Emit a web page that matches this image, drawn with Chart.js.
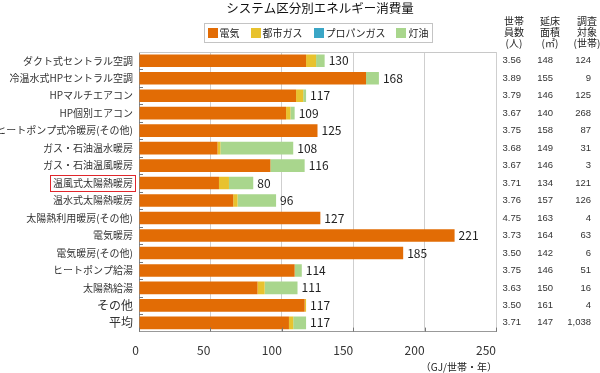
<!DOCTYPE html>
<html>
<head>
<meta charset="utf-8">
<script src="https://cdn.jsdelivr.net/npm/chart.js@4/dist/chart.umd.min.js"></script>
<style>
  html, body { margin: 0; padding: 0; background: #fff; }
</style>
</head>
<body>
<canvas id="energyChart" width="600" height="373"></canvas>
<script>
// categories (top to bottom)
const categories = [
  'ダクト式セントラル空調', '冷温水式HPセントラル空調', 'HPマルチエアコン', 'HP個別エアコン',
  'ヒートポンプ式冷暖房(その他)', 'ガス・石油温水暖房', 'ガス・石油温風暖房', '温風式太陽熱暖房',
  '温水式太陽熱暖房', '太陽熱利用暖房(その他)', '電気暖房', '電気暖房(その他)',
  'ヒートポンプ給湯', '太陽熱給湯', 'その他', '平均'
];
const seriesNames = ['電気', '都市ガス', 'プロパンガス', '灯油'];

// GJ / household / year
const electricity = [117, 159, 110, 103, 125, 55, 92, 56, 66, 127, 221, 185, 109, 83, 116, 105];
const cityGas     = [7, 0, 5, 3, 0, 2, 0, 7, 3, 0, 0, 0, 0, 5, 1, 3];
const propane     = [0, 0, 0, 0, 0, 0, 0, 0, 0, 0, 0, 0, 0, 0, 0, 0];
const kerosene    = [6, 9, 2, 3, 0, 51, 24, 17, 27, 0, 0, 0, 5, 23, 0, 9];
const totals      = [130, 168, 117, 109, 125, 108, 116, 80, 96, 127, 221, 185, 114, 111, 117, 117];

// table on the right
const persons    = ['3.56', '3.89', '3.79', '3.67', '3.75', '3.68', '3.67', '3.71', '3.76', '4.75', '3.73', '3.50', '3.75', '3.63', '3.50', '3.71'];
const floorArea  = ['148', '155', '146', '140', '158', '149', '146', '134', '157', '163', '164', '142', '146', '150', '161', '147'];
const households = ['124', '9', '125', '268', '87', '31', '3', '121', '126', '4', '63', '6', '51', '16', '4', '1,038'];
const tableHeads = [['世帯', '員数', '(人)'], ['延床', '面積', '(㎡)'], ['調査', '対象', '(世帯)']];

const xTicks = [0, 50, 100, 150, 200, 250];
const highlighted = 7;

const FONT = "'Noto Sans CJK JP', 'Noto Sans', sans-serif";
const colors = ['#e26c05', '#e8c22e', '#3aa6c6', '#a9d68d'];

const extras = {
  id: 'extras',
  afterDatasetsDraw(chart) {
    const ctx = chart.ctx;
    const x = chart.scales.x, y = chart.scales.y;
    ctx.save();
    ctx.font = '12px ' + FONT;
    ctx.fillStyle = '#222';
    ctx.textBaseline = 'middle';
    ctx.textAlign = 'left';
    totals.forEach((t, i) => {
      ctx.fillText(String(t), x.getPixelForValue(t) + 4, y.getPixelForValue(i));
    });
    ctx.restore();
  },
  afterDraw(chart) {
    const ctx = chart.ctx;
    const area = chart.chartArea;
    const x = chart.scales.x, y = chart.scales.y;
    ctx.save();

    // top border of plot
    ctx.strokeStyle = '#c8c8c8';
    ctx.lineWidth = 1;
    ctx.beginPath();
    ctx.moveTo(area.left, area.top + 0.5);
    ctx.lineTo(area.right, area.top + 0.5);
    ctx.stroke();

    // short inner tick marks on both axes
    ctx.strokeStyle = '#777';
    ctx.beginPath();
    for (let i = 0; i < categories.length - 1; i++) {
      const yy = Math.round((y.getPixelForValue(i) + y.getPixelForValue(i + 1)) / 2) + 0.5;
      ctx.moveTo(area.left, yy);
      ctx.lineTo(area.left + 4, yy);
    }
    xTicks.forEach(v => {
      const xx = Math.round(x.getPixelForValue(v)) + 0.5;
      ctx.moveTo(xx, area.bottom);
      ctx.lineTo(xx, area.bottom - 4);
    });
    ctx.stroke();

    // title
    ctx.fillStyle = '#111';
    ctx.font = '12.5px ' + FONT;
    ctx.textAlign = 'center';
    ctx.textBaseline = 'middle';
    ctx.fillText('システム区分別エネルギー消費量', 320, 8);

    // legend with frame
    ctx.font = '10px ' + FONT;
    const widths = seriesNames.map(s => ctx.measureText(s).width);
    const itemW = widths.map(w => 12 + w);
    const gap = 11;
    const total = itemW.reduce((a, b) => a + b, 0) + gap * (itemW.length - 1);
    const frameL = 204, frameR = 432, frameT = 23, frameB = 42;
    let lx = (frameL + frameR) / 2 - total / 2;
    const cy = (frameT + frameB) / 2 + 0.5;
    ctx.strokeStyle = '#c4c4c4';
    ctx.strokeRect(frameL + 0.5, frameT + 0.5, frameR - frameL, frameB - frameT);
    ctx.textAlign = 'left';
    seriesNames.forEach((s, k) => {
      ctx.fillStyle = colors[k];
      ctx.fillRect(Math.round(lx), Math.round(cy - 5), 10, 10);
      ctx.fillStyle = '#222';
      ctx.fillText(s, lx + 12, cy);
      lx += itemW[k] + gap;
    });

    // table headers
    const headX = [514, 550, 587];
    ctx.fillStyle = '#222';
    ctx.font = '10px ' + FONT;
    ctx.textAlign = 'center';
    tableHeads.forEach((lines, c) => {
      lines.forEach((s, k) => ctx.fillText(s, headX[c], 21 + k * 11));
    });

    // table values
    const colRight = [521, 553, 591];
    ctx.fillStyle = '#333';
    ctx.font = "9.5px 'Liberation Sans Narrow', 'Liberation Sans', sans-serif";
    ctx.textAlign = 'right';
    [persons, floorArea, households].forEach((col, c) => {
      col.forEach((v, i) => ctx.fillText(v, colRight[c], y.getPixelForValue(i)));
    });

    // unit label
    ctx.fillStyle = '#222';
    ctx.font = '10px ' + FONT;
    ctx.textAlign = 'right';
    ctx.fillText('（GJ/世帯・年）', 497, 367);

    // red frame around highlighted category
    ctx.font = '10px ' + FONT;
    const w = ctx.measureText(categories[highlighted]).width;
    const hy = y.getPixelForValue(highlighted);
    const hx = area.left - 6;
    ctx.strokeStyle = '#e0262c';
    ctx.strokeRect(Math.round(hx - w - 3) + 0.5, Math.round(hy - 8) + 0.5, Math.round(w + 5), 16);

    ctx.restore();
  }
};

const data = {
  labels: categories,
  datasets: [electricity, cityGas, propane, kerosene].map((vals, k) => ({
    label: seriesNames[k],
    data: vals,
    backgroundColor: colors[k],
    borderWidth: 0,
    barPercentage: 0.72,
    categoryPercentage: 1.0
  }))
};

const config = {
  type: 'bar',
  data,
  options: {
    indexAxis: 'y',
    responsive: false,
    animation: false,
    devicePixelRatio: 1,
    layout: { padding: { left: 0, right: 104, top: 52, bottom: 3 } },
    plugins: {
      title: { display: false },
      legend: { display: false },
      tooltip: { enabled: false }
    },
    scales: {
      x: {
        stacked: true,
        min: 0,
        max: 250,
        afterBuildTicks(scale) { scale.ticks = xTicks.map(v => ({ value: v })); },
        ticks: { color: '#333', padding: 12, align: 'end', font: { family: FONT, size: 12 } },
        grid: { color: '#cfcfcf', drawTicks: false },
        border: { color: '#999' }
      },
      y: {
        stacked: true,
        afterFit(scale) { scale.width = 139; },
        ticks: {
          autoSkip: false,
          color: '#333',
          padding: 6,
          font: (c) => ({ family: FONT, size: c.index >= 14 ? 12 : 10 })
        },
        grid: { display: false, drawTicks: false },
        border: { color: '#888' }
      }
    }
  },
  plugins: [extras]
};

const energyChart = new Chart(document.getElementById('energyChart'), config);
</script>
</body>
</html>
